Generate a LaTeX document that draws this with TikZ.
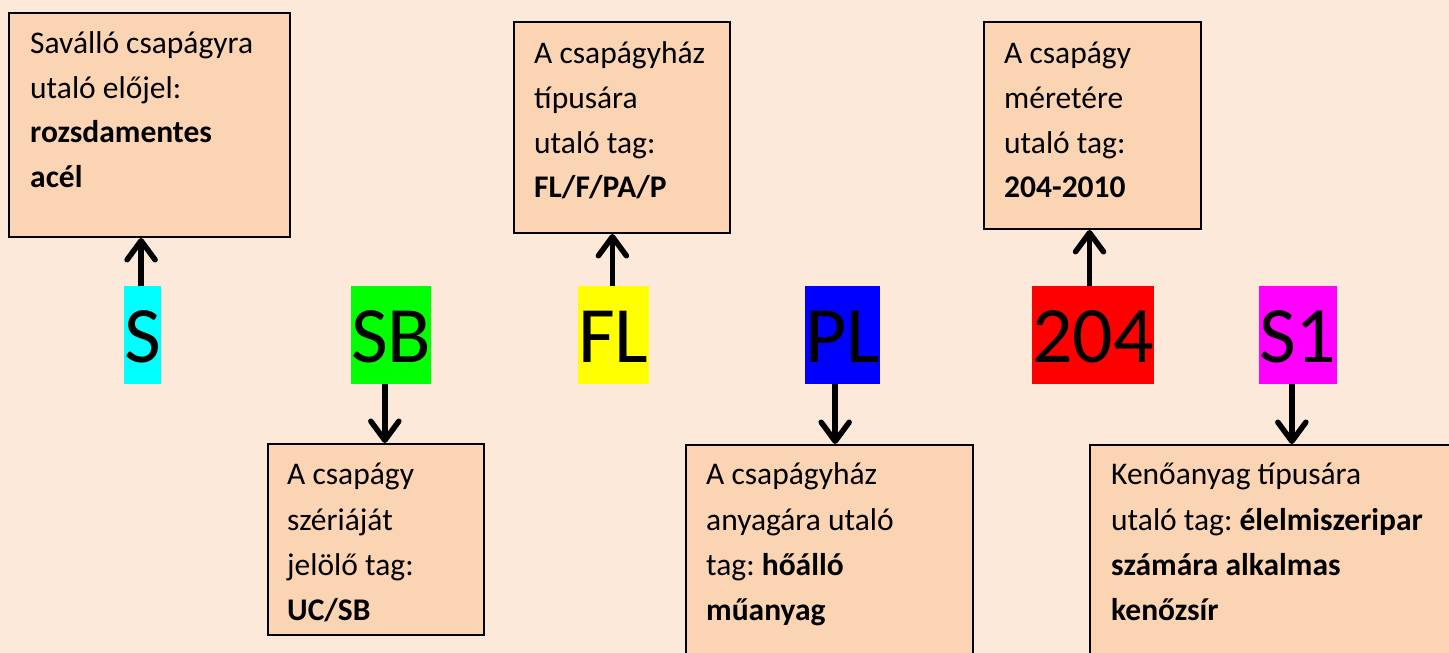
\documentclass[tikz,border=0pt]{standalone}
\usepackage{fontspec}
\setmainfont{Carlito}
\usetikzlibrary{arrows.meta}
\definecolor{bg}{HTML}{FDE9D9}
\definecolor{boxfill}{HTML}{FBD4B4}
\definecolor{tcyan}{HTML}{00FFFF}
\definecolor{tgreen}{HTML}{00FF00}
\definecolor{tyellow}{HTML}{FFFF00}
\definecolor{tblue}{HTML}{0000FF}
\definecolor{tred}{HTML}{FF0000}
\definecolor{tmagenta}{HTML}{FF00FF}
\begin{document}
\frenchspacing
\begin{tikzpicture}[x=1pt,y=-1pt,
  infobox/.style={draw=black, line width=2pt, fill=boxfill, inner sep=0pt, anchor=north west},
  txt/.style={font=\fontsize{31.5}{45}\selectfont\frenchspacing, anchor=base west, inner sep=0pt},
  tagbox/.style={font=\fontsize{80}{96}\selectfont, anchor=base west, inner sep=0pt, text height=76pt, text depth=22pt},
  conn/.style={line width=5.5pt, -{Straight Barb[length=19pt,width=28pt,round]}}]
\useasboundingbox (0,0) rectangle (1449,653);
\fill[bg] (0,0) rectangle (1449,653);
\clip (0,0) rectangle (1449,653);

% info boxes
\node[infobox, minimum width=281pt, minimum height=224pt] (b1) at (8,12) {};
\node[infobox, minimum width=216pt, minimum height=211pt] (b2) at (513,21) {};
\node[infobox, minimum width=217pt, minimum height=207pt] (b3) at (983,21) {};
\node[infobox, minimum width=216pt, minimum height=191pt] (b4) at (267,443) {};
\node[infobox, minimum width=287pt, minimum height=260pt] (b5) at (685,444) {};
\node[infobox, minimum width=400pt, minimum height=260pt] (b6) at (1089,444) {};

% box 1 text
\node[txt] (b1l1) at (30,53) {Saválló csapágyra};
\node[txt] (b1l2) at (30,98) {utaló előjel:};
\node[txt] (b1l3) at (30,142) {\textbf{rozsdamentes}};
\node[txt] (b1l4) at (30,187) {\textbf{acél}};

% box 2 text
\node[txt] (b2l1) at (534,63) {A csapágyház};
\node[txt] (b2l2) at (534,108) {típusára};
\node[txt] (b2l3) at (534,153) {utaló tag:};
\node[txt] (b2l4) at (534,197) {\textbf{FL/F/PA/P}};

% box 3 text
\node[txt] (b3l1) at (1004,63) {A csapágy};
\node[txt] (b3l2) at (1004,108) {méretére};
\node[txt] (b3l3) at (1004,153) {utaló tag:};
\node[txt] (b3l4) at (1004,197) {\textbf{204-2010}};

% box 4 text
\node[txt] (b4l1) at (287,484) {A csapágy};
\node[txt] (b4l2) at (287,530) {szériáját};
\node[txt] (b4l3) at (287,575) {jelölő tag:};
\node[txt] (b4l4) at (287,620) {\textbf{UC/SB}};

% box 5 text
\node[txt] (b5l1) at (706,484) {A csapágyház};
\node[txt] (b5l2) at (706,530) {anyagára utaló};
\node[txt] (b5l3) at (706,575) {tag: \textbf{hőálló}};
\node[txt] (b5l4) at (706,620) {\textbf{műanyag}};

% box 6 text
\node[txt] (b6l1) at (1111,484) {Kenőanyag típusára};
\node[txt] (b6l2) at (1111,530) {utaló tag: \textbf{élelmiszeripar}};
\node[txt] (b6l3) at (1111,575) {\textbf{számára alkalmas}};
\node[txt] (b6l4) at (1111,620) {\textbf{kenőzsír}};

% coloured tags
\node[tagbox, fill=tcyan] (tS) at (124,362) {S};
\node[tagbox, fill=tgreen] (tSB) at (351,362) {SB};
\node[tagbox, fill=tyellow] (tFL) at (578,362) {FL};
\node[tagbox, fill=tblue] (tPL) at (805,362) {PL};
\node[tagbox, fill=tred] (t204) at (1032,362) {204};
\node[tagbox, fill=tmagenta] (tS1) at (1259,362) {S1};

% connectors
\draw[conn] ([xshift=-1.5pt]tS.north) -- ([xshift=-1.5pt]tS.north |- b1.south);
\draw[conn] ([xshift=-1pt]tFL.north) -- ([xshift=-1pt]tFL.north |- b2.south);
\draw[conn] ([xshift=-3.5pt]t204.north) -- ([xshift=-3.5pt]t204.north |- b3.south);
\draw[conn] ([xshift=-6.5pt]tSB.south) -- ([xshift=-6.5pt]tSB.south |- b4.north);
\draw[conn] ([xshift=-7.5pt]tPL.south) -- ([xshift=-7.5pt]tPL.south |- b5.north);
\draw[conn] ([xshift=-6pt]tS1.south) -- ([xshift=-6pt]tS1.south |- b6.north);
\end{tikzpicture}
\end{document}
